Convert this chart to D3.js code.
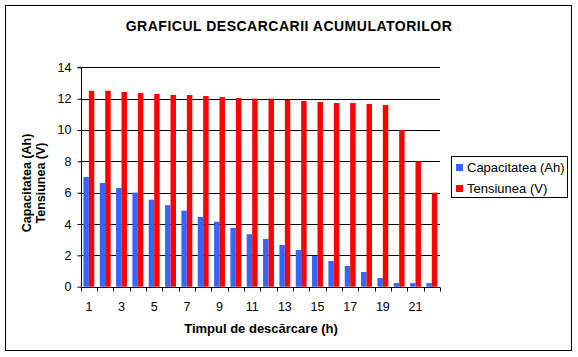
<!DOCTYPE html>
<html><head><meta charset="utf-8">
<script src="https://cdn.jsdelivr.net/npm/d3@7"></script>
<style>body{margin:0;background:#fff}svg{display:block}text{font-family:Arial,"Liberation Sans",sans-serif}</style>
</head><body>
<script>
const categories = d3.range(1, 23);
const capacitatea = [7.0,6.62,6.3,6.0,5.55,5.2,4.85,4.45,4.15,3.75,3.35,3.05,2.66,2.34,1.96,1.64,1.32,0.94,0.55,0.23,0.23,0.23];
const tensiunea = [12.5,12.5,12.43,12.36,12.3,12.24,12.23,12.17,12.1,12.04,12.0,12.0,11.91,11.85,11.79,11.72,11.72,11.66,11.6,10.0,8.0,6.0];
const seriesNames = ["Capacitatea (Ah)", "Tensiunea (V)"];
const colors = ["#3366ff", "#ff0000"];
const yTicks = [0,2,4,6,8,10,12,14];
const xTickLabels = [1,3,5,7,9,11,13,15,17,19,21];

(function(){
const W = 578, H = 357;
const svg = d3.select("body").append("svg").attr("width", W).attr("height", H);
svg.append("rect").attr("x",5.5).attr("y",5.5).attr("width",566).attr("height",345)
  .attr("fill","#fff").attr("stroke","#000").attr("stroke-width",1);

const pL = 80.7, pR = 440, pT = 67.3, pB = 286.7;
const x = d3.scaleBand().domain(categories).range([pL, pR]).paddingInner(1/3).paddingOuter(1/6);
const xCat = d3.scaleBand().domain(categories).range([pL, pR]);
const xs = d3.scaleBand().domain([0,1]).range([0, x.bandwidth()]);
const y = d3.scaleLinear().domain([0,14]).range([pB, pT]);

// gridlines
svg.append("g").selectAll("line").data(yTicks.filter(d=>d>0)).join("line")
  .attr("x1", pL).attr("x2", pR).attr("y1", d=>Math.round(y(d))+0.5).attr("y2", d=>Math.round(y(d))+0.5)
  .attr("stroke","#000").attr("stroke-width",1);

const data = [capacitatea, tensiunea];
data.forEach((vals, si) => {
  svg.append("g").selectAll("rect").data(vals).join("rect")
    .attr("x", (d,i)=>x(categories[i]) + xs(si))
    .attr("width", xs.bandwidth())
    .attr("y", d=>y(d)).attr("height", d=>pB - y(d))
    .attr("fill", colors[si]);
});

// y axis
const yAxis = d3.axisLeft(y).tickValues(yTicks).tickSize(4).tickPadding(6).tickFormat(d3.format("d"));
const gy = svg.append("g").attr("transform", `translate(${Math.round(pL)+0.5},0)`).call(yAxis);
gy.select(".domain").attr("d", `M-4,${pT}H0V${pB}`).attr("stroke","#000");
gy.selectAll("text").attr("font-size",12.5).attr("fill","#000").style("font-family","Arial");

// x axis
const xAxis = d3.axisBottom(xCat).tickSize(0).tickFormat(d => xTickLabels.includes(d) ? d : "");
const gx = svg.append("g").attr("transform", `translate(0,${Math.round(pB)+0.5})`).call(xAxis);
gx.select(".domain").attr("d", `M${pL},0H${pR}`).attr("stroke","#000");
gx.selectAll("text").attr("font-size",12.5).attr("fill","#000").attr("dy","1.6em").style("font-family","Arial");
gx.append("g").selectAll("line").data(d3.range(categories.length+1)).join("line")
  .attr("x1", i=>Math.round(pL + i*xCat.step())+0.5).attr("x2", i=>Math.round(pL + i*xCat.step())+0.5)
  .attr("y1",0).attr("y2",4).attr("stroke","#000");

// title
svg.append("text").attr("x", 289).attr("y", 31).attr("text-anchor","middle")
  .attr("font-size",14).attr("letter-spacing",0.5).attr("font-weight","bold").text("GRAFICUL DESCARCARII ACUMULATORILOR");

// x title
svg.append("text").attr("x", 261).attr("y", 333).attr("text-anchor","middle")
  .attr("font-size",13).attr("font-weight","bold").text("Timpul de descărcare (h)");

// y title
const yt = svg.append("text").attr("transform","translate(31,183) rotate(-90)")
  .attr("text-anchor","middle").attr("font-size",12.5).attr("font-weight","bold");
yt.append("tspan").attr("x",0).attr("dy",0).text("Capacitatea (Ah)");
yt.append("tspan").attr("x",0).attr("dy","1.15em").text("Tensiunea (V)");

// legend
const lg = svg.append("g");
lg.append("rect").attr("x",451.5).attr("y",156.5).attr("width",116).attr("height",41)
  .attr("fill","#fff").attr("stroke","#000");
seriesNames.forEach((n,i)=>{
  lg.append("rect").attr("x",456).attr("y",164+i*21).attr("width",7).attr("height",7).attr("fill",colors[i]);
  lg.append("text").attr("x",467).attr("y",172+i*21).attr("font-size",13).text(n);
});
})();
</script>
</body></html>
